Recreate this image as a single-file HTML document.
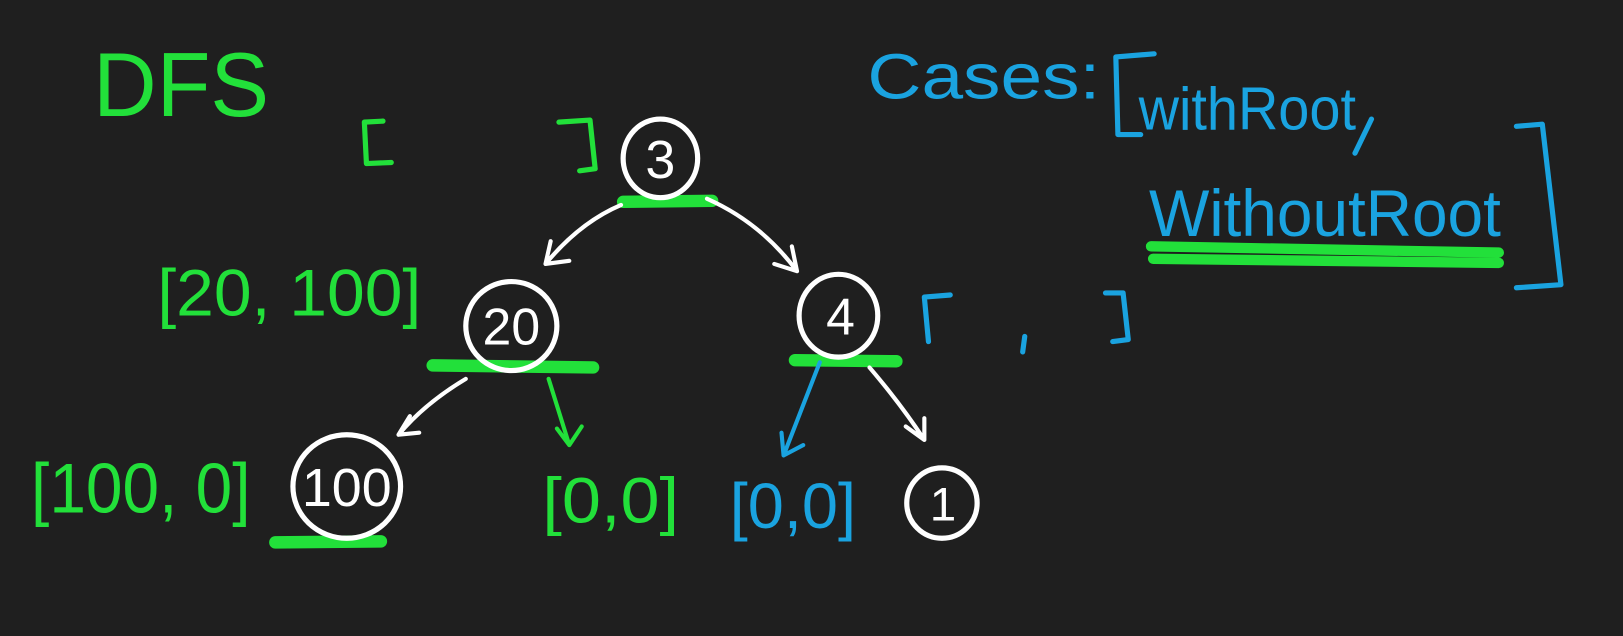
<!DOCTYPE html>
<html><head><meta charset="utf-8"><style>
html,body{margin:0;padding:0;background:#1f1f1f;}
svg{display:block;}
text{font-family:"Liberation Sans",sans-serif;}
</style></head><body>
<svg width="1623" height="636" viewBox="0 0 1623 636" xmlns="http://www.w3.org/2000/svg">
<rect width="1623" height="636" fill="#1f1f1f"/>
<g transform="scale(1.0351)">
<g fill="none" stroke-linecap="round" stroke-linejoin="round">
<g stroke="#22e03a" stroke-width="12">
<path d="M602 195 L688 194"/>
<path d="M418 353 L573 355"/>
<path d="M768 348 L866 349"/>
<path d="M266 524 L368 523"/>
</g>
<g stroke="#22e03a" stroke-width="10">
<path d="M1112 238 L1448 244 M1114 250 L1448 254"/>
</g>
<g stroke="#22e03a" stroke-width="5">
<path d="M370 117 L352 118 L354 158 L378 157"/>
<path d="M540 118 L570 116 L575 163 L560 165"/>
</g>
<g stroke="#1aa3e0" stroke-width="5">
<path d="M1115 52 L1078 55 L1080 130 L1102 130"/>
<path d="M1465 122 L1490 120 L1508 275 L1465 278"/>
<path d="M1325 115 L1309 148"/>
<path d="M918 285 L893 287 L897 330"/>
<path d="M1068 283 L1085 283 L1090 328 L1075 330"/>
<path d="M990 325 L988 340"/>
</g>
<g stroke="#fff" stroke-width="5">
<ellipse cx="638" cy="153" rx="36" ry="38"/>
<ellipse cx="494" cy="315" rx="44" ry="43"/>
<ellipse cx="810" cy="305" rx="38" ry="40"/>
<ellipse cx="335" cy="470" rx="52" ry="50"/>
<ellipse cx="910" cy="486" rx="34" ry="34"/>
</g>
<g stroke="#fff" stroke-width="4">
<path d="M600 198 Q560 215 527 255 M527 255 L532 233 M527 255 L550 252"/>
<path d="M683 192 Q735 215 770 262 M770 262 L765 238 M770 262 L748 255"/>
<path d="M450 366 Q410 390 385 420 M385 420 L396 402 M385 420 L405 418"/>
<path d="M840 355 Q870 390 893 425 M893 425 L893 404 M893 425 L875 412"/>
</g>
<path d="M530 366 L550 430 M550 430 L538 414 M550 430 L562 412" stroke="#22e03a" stroke-width="4"/>
<path d="M792 350 L757 440 M757 440 L755 418 M757 440 L776 430" stroke="#1aa3e0" stroke-width="4"/>
</g>
<g fill="#22e03a">
<text x="90" y="112" font-size="88" textLength="170" lengthAdjust="spacingAndGlyphs">DFS</text>
<text x="152" y="305" font-size="64" textLength="255" lengthAdjust="spacingAndGlyphs">[20, 100]</text>
<text x="30" y="495" font-size="68" textLength="212" lengthAdjust="spacingAndGlyphs">[100, 0]</text>
<text x="524" y="505" font-size="62" textLength="132" lengthAdjust="spacingAndGlyphs">[0,0]</text>
</g>
<g fill="#1aa3e0">
<text x="838" y="95" font-size="62" textLength="225" lengthAdjust="spacingAndGlyphs">Cases:</text>
<text x="1100" y="125" font-size="58" textLength="210" lengthAdjust="spacingAndGlyphs">withRoot</text>
<text x="1110" y="228" font-size="64" textLength="340" lengthAdjust="spacingAndGlyphs">WithoutRoot</text>
<text x="705" y="510" font-size="62" textLength="122" lengthAdjust="spacingAndGlyphs">[0,0]</text>
</g>
<g fill="#fff" text-anchor="middle">
<text x="638" y="172" font-size="52">3</text>
<text x="494" y="333" font-size="50">20</text>
<text x="812" y="323" font-size="50">4</text>
<text x="335" y="489" font-size="52">100</text>
<text x="911" y="503" font-size="46">1</text>
</g>
</g>
</svg>
</body></html>
